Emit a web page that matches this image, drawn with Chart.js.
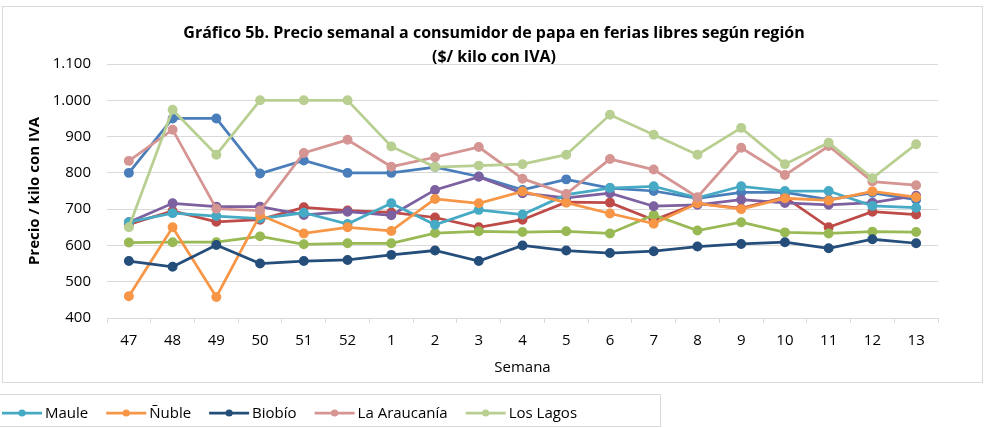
<!DOCTYPE html>
<html>
<head>
<meta charset="utf-8">
<script src="https://cdn.jsdelivr.net/npm/chart.js@4"></script>
<style>
    html, body { margin: 0; padding: 0; background: #ffffff; }
    #wrap { width: 990px; height: 428px; }
</style>
</head>
<body>
<div id="wrap"><canvas id="preciosChart" width="990" height="428"></canvas></div>
<script>
// Semanas (eje X)
var semanas = ['47', '48', '49', '50', '51', '52', '1', '2', '3', '4', '5', '6', '7', '8', '9', '10', '11', '12', '13'];

// Precio $/kilo con IVA por región
var coquimbo     = [800, 950, 950, 798, 834, 800, 800, 816, 790, 753, 782, 758, 750, 730, 746, 746, 726, 745, 726];
var valparaiso   = [658, 695, 665, 671, 705, 696, 691, 677, 650, 671, 719, 718, 670, 716, 702, 733, 650, 693, 685];
var metropolitana = [608, 609, 609, 625, 603, 606, 606, 634, 639, 637, 639, 633, 684, 641, 664, 636, 633, 638, 637];
var ohiggins     = [664, 716, 707, 707, 684, 693, 683, 753, 789, 744, 731, 744, 708, 712, 726, 717, 712, 718, 737];
var maule        = [664, 689, 681, 674, 690, 659, 716, 657, 698, 685, 740, 758, 763, 731, 763, 750, 750, 709, 704];
var nuble        = [460, 650, 458, 684, 633, 650, 640, 728, 716, 749, 718, 688, 660, 716, 700, 730, 724, 749, 733];
var biobio       = [557, 541, 601, 550, 557, 560, 574, 586, 557, 600, 586, 579, 584, 597, 604, 609, 592, 617, 606];
var araucania    = [833, 919, 701, 696, 855, 891, 817, 843, 871, 784, 742, 838, 809, 733, 869, 794, 874, 776, 766];
var losLagos     = [650, 974, 850, 1000, 1000, 1000, 873, 816, 820, 824, 850, 960, 905, 850, 924, 824, 883, 785, 879];

var regiones = ['Coquimbo', 'Valparaíso', 'Metropolitana', "O'Higgins", 'Maule', 'Ñuble', 'Biobío', 'La Araucanía', 'Los Lagos'];
var series = [coquimbo, valparaiso, metropolitana, ohiggins, maule, nuble, biobio, araucania, losLagos];
var colores = ['#4a7ebb', '#be4b48', '#98b954', '#7d60a0', '#46aac5', '#f79646', '#254e7b', '#d49593', '#b9cf92'];

// Solo estas regiones aparecen en la leyenda visible
var enLeyenda = ['Maule', 'Ñuble', 'Biobío', 'La Araucanía', 'Los Lagos'];

var fuente = "'Open Sans', sans-serif";

function formatoMiles(v) {
    return String(v).replace(/\B(?=(\d{3})+(?!\d))/g, '.');
}

var datasets = series.map(function (valores, i) {
    return {
        label: regiones[i],
        data: valores,
        borderColor: colores[i],
        backgroundColor: colores[i],
        pointBackgroundColor: colores[i],
        pointBorderColor: colores[i],
        borderWidth: 2.75,
        pointRadius: 3.6,
        pointHoverRadius: 3.6,
        tension: 0,
        order: series.length - i // las últimas series quedan arriba
    };
});

// Marco del gráfico y leyenda dibujada a mano
var marcoYLeyenda = {
    id: 'marcoYLeyenda',
    beforeDraw: function (chart) {
        var ctx = chart.ctx;
        ctx.save();
        ctx.fillStyle = '#ffffff';
        ctx.fillRect(0, 0, chart.width, chart.height);
        ctx.strokeStyle = '#d9d9d9';
        ctx.lineWidth = 1;
        ctx.strokeRect(2.5, 6.5, 980, 376);
        ctx.strokeRect(-1.5, 394.5, 662, 32);
        ctx.restore();
    },
    afterDraw: function (chart) {
        var ctx = chart.ctx;
        var x = 2;
        var y = 413;
        ctx.save();
        ctx.font = '15px ' + fuente;
        ctx.textBaseline = 'middle';
        enLeyenda.forEach(function (nombre) {
            var i = regiones.indexOf(nombre);
            ctx.strokeStyle = colores[i];
            ctx.fillStyle = colores[i];
            ctx.lineWidth = 2.75;
            ctx.beginPath();
            ctx.moveTo(x, y);
            ctx.lineTo(x + 40, y);
            ctx.stroke();
            ctx.beginPath();
            ctx.arc(x + 20, y, 3.6, 0, Math.PI * 2);
            ctx.fill();
            ctx.fillStyle = '#000000';
            ctx.fillText(nombre, x + 43, y + 1);
            x = x + 43 + ctx.measureText(nombre).width + 18;
        });
        ctx.restore();
    }
};

var ctx = document.getElementById('preciosChart').getContext('2d');
var myChart = new Chart(ctx, {
    type: 'line',
    data: {
        labels: semanas,
        datasets: datasets
    },
    options: {
        responsive: false,
        animation: false,
        layout: {
            padding: { left: 6, right: 8, top: 8, bottom: 48 }
        },
        plugins: {
            legend: { display: false },
            tooltip: { enabled: false },
            title: {
                display: true,
                text: ['Gráfico 5b. Precio semanal a consumidor de papa en ferias libres según región', '($/ kilo con IVA)'],
                color: '#000000',
                font: { family: fuente, size: 16, weight: 'bold', lineHeight: 1.5 },
                padding: { top: 13, bottom: -5 }
            }
        },
        scales: {
            x: {
                offset: true,
                grid: {
                    display: true,
                    drawOnChartArea: false,
                    drawTicks: true,
                    tickLength: 5,
                    offset: true,
                    color: '#d9d9d9'
                },
                border: { display: true, color: '#d9d9d9' },
                ticks: {
                    color: '#000000',
                    padding: 9,
                    maxRotation: 0,
                    autoSkip: false,
                    font: { family: fuente, size: 15 }
                },
                title: {
                    display: true,
                    text: 'Semana',
                    color: '#000000',
                    font: { family: fuente, size: 15 },
                    padding: { top: 0, bottom: 3 }
                },
                afterFit: function (scale) { scale.height = 62; }
            },
            y: {
                min: 400,
                max: 1100,
                grid: { color: '#d9d9d9', drawTicks: false },
                border: { display: false },
                ticks: {
                    stepSize: 100,
                    padding: 16,
                    color: '#000000',
                    font: { family: fuente, size: 15 },
                    callback: function (v) { return formatoMiles(v); }
                },
                title: {
                    display: true,
                    text: 'Precio / kilo con IVA',
                    color: '#000000',
                    font: { family: fuente, size: 15, weight: 'bold' },
                    padding: { top: 20, bottom: 0 }
                },
                afterFit: function (scale) { scale.width = 101; }
            },
            y2: {
                position: 'right',
                display: true,
                grid: { display: false },
                border: { display: false },
                ticks: { display: false },
                afterFit: function (scale) { scale.width = 44; }
            }
        }
    },
    plugins: [marcoYLeyenda]
});
</script>
</body>
</html>
